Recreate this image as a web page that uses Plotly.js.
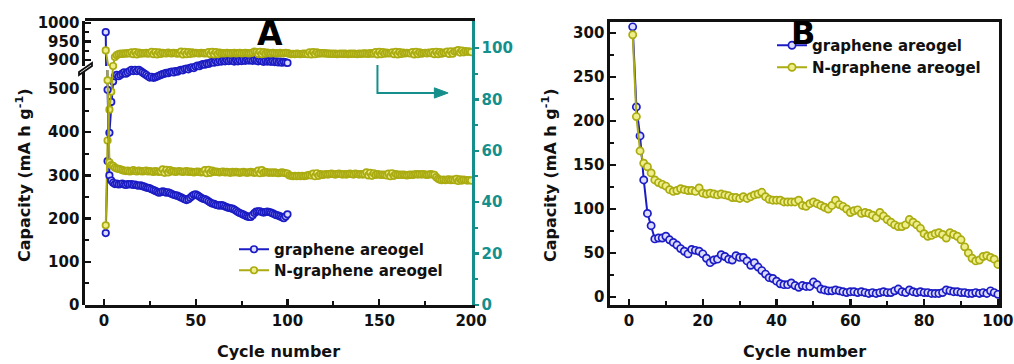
<!DOCTYPE html>
<html>
<head>
<meta charset="utf-8">
<script src="https://cdn.plot.ly/plotly-3.0.1.min.js"></script>
<style>html,body{margin:0;padding:0;background:#fff;}#chart{width:1014px;height:364px;}</style>
</head>
<body>
<div id="chart"></div>
<script>
// ---------------- DATA ----------------
// Panel A: capacity (left axis, mA h g-1) and coulombic efficiency (right axis, %)
const blueCapA = [975,498,300,288,283,280,281,279,280,281,
  279,278,280,279,280,278,279,277,276,277,
  275,274,272,271,270,268,266,264,262,260,
  261,263,262,260,261,259,257,255,254,253,
  251,249,247,245,243,245,248,252,255,256,
  254,251,248,246,245,243,240,237,235,234,
  232,231,230,231,230,228,226,225,224,223,
  221,218,215,213,211,209,207,205,204,204,
  208,213,216,217,217,215,214,215,216,215,
  214,212,210,208,207,205,203,201,205,210];
const blueCE_A = [28,56,67,79,87,89,89.5,89,89.5,90,
  90.5,90,90.5,91,91.5,91,91.5,91,91.5,91,
  90.5,90,89.5,89,88.5,88.8,88.4,88.6,88.9,89.2,
  89.5,89.8,90,90.3,90.2,90.6,90.8,90.5,91,90.8,
  91.2,91.5,91.3,91.8,92,91.7,92.3,92.5,92.2,92.8,
  93.1,92.9,93.4,93.7,93.5,94,93.8,94.3,94.6,94.3,
  94.8,94.5,95,94.7,95.1,94.8,95.2,94.9,95.3,95,
  94.7,95.1,94.8,95.2,94.9,95.3,95,95.4,95.1,95.3,
  95,95.4,95.1,94.8,95.2,94.9,94.6,95,94.7,94.9,
  94.6,94.9,94.5,94.8,94.4,94.7,94.3,94.6,94.4,94.2];
const yellowCapA = [926,520,330,324,322,318,316,315,314,312,
  311,310,311,309,310,312,310,309,311,310,
  309,310,311,309,310,309,308,310,309,308,
  309,314,306,313,307,312,309,310,308,309,
  310,309,308,309,310,308,309,308,307,308,
  309,308,307,308,312,305,313,306,311,308,
  309,308,307,308,309,307,308,307,306,308,
  307,308,307,306,307,308,307,306,307,308,
  307,306,307,311,305,312,306,308,307,306,
  307,306,307,306,305,306,307,306,305,304,
  300,299,298,299,298,299,298,299,298,299,
  300,301,300,304,298,305,299,303,301,302,
  303,302,303,304,303,302,303,304,303,302,
  303,302,303,304,303,302,304,303,302,303,
  302,303,307,300,306,299,305,301,303,302,
  301,302,301,300,304,298,305,299,303,301,
  302,301,302,301,300,301,302,301,302,303,
  302,303,302,303,302,301,302,303,302,301,
  296,292,290,289,290,289,290,291,289,290,
  289,292,287,291,288,290,289,288,289,288];
const yellowCE_A = [31,64,76,83,93,96.5,97.2,97.6,97.8,97.7,
  97.9,97.8,98.0,97.9,98.3,97.6,98.4,97.5,98.2,97.8,
  98.0,97.9,98.1,97.8,98.0,98.5,97.6,98.4,97.5,98.3,
  97.7,98.1,98.0,97.9,98.2,98.0,97.9,98.1,98.0,97.8,
  98.0,98.6,97.5,98.5,97.6,98.4,97.7,98.3,97.9,98.1,
  98.0,97.9,98.1,98.0,97.9,98.0,98.4,97.6,98.5,97.5,
  98.4,97.6,98.2,97.9,98.0,97.9,98.1,98.0,97.9,98.0,
  98.1,97.9,98.0,98.1,97.9,98.0,98.1,98.0,97.9,98.0,
  98.2,98.6,98.4,97.7,98.5,97.6,98.4,97.8,98.2,98.0,
  97.9,98.1,98.0,97.9,98.0,98.1,97.9,98.0,98.1,98.0,
  97.8,97.6,97.7,97.6,97.8,97.7,97.6,97.7,97.8,97.7,
  97.6,98.3,97.5,98.4,97.6,98.3,97.8,98.0,97.9,98.0,
  97.8,97.9,97.7,97.8,97.7,97.8,97.6,97.7,97.8,97.7,
  97.8,97.7,97.6,97.8,97.7,97.8,97.7,97.6,97.8,97.7,
  97.8,97.9,97.8,97.7,98.0,97.8,97.9,98.4,97.5,98.5,
  97.6,98.4,97.8,98.2,97.9,98.0,98.3,97.6,98.5,97.5,
  98.4,97.7,98.2,97.9,98.1,98.0,97.9,98.4,97.5,98.5,
  97.6,98.3,97.8,98.0,98.1,97.9,98.2,98.0,98.4,97.6,
  98.5,97.6,98.4,97.8,98.2,98.1,98.6,97.7,98.7,97.8,
  98.6,98.9,99.2,98.2,99.0,98.3,98.8,98.5,98.7,98.4];
// Panel B: capacity (mA h g-1)
const blueCapB = [307,216,183,133,95,81,66,67,67,69,
  65,62,59,55,52,49,54,53,52,49,
  44,39,42,43,48,46,43,42,47,45,
  45,41,36,39,34,30,26,22,21,18,
  15,14,14,16,13,11,13,12,12,17,
  14,9,8,7,7,8,7,6,5,6,
  6,5,6,5,4,5,4,5,6,5,
  5,7,9,6,5,8,6,5,6,5,
  5,4,4,4,5,8,7,6,6,5,
  5,4,4,5,4,5,4,7,5,3];
const yellowCapB = [298,205,166,152,148,141,133,130,128,126,
  122,120,121,123,122,121,121,120,124,118,
  117,118,117,116,117,116,115,113,113,112,
  114,112,114,116,117,119,114,111,110,110,
  110,108,108,108,108,110,104,103,106,108,
  106,104,102,100,104,110,105,103,100,96,
  98,99,95,96,95,93,90,96,92,88,
  85,82,80,80,82,88,85,82,78,72,
  69,70,72,73,71,67,73,71,69,65,
  57,50,44,41,42,46,47,45,43,37];
const seriesNames = ['graphene areogel', 'N-graphene areogel'];
const xTitle = 'Cycle number';
const yTitle = 'Capacity (mA h g<sup>-1</sup>)';

const cycA200 = yellowCapA.map((_, i) => i + 1);
const cycA100 = blueCapA.map((_, i) => i + 1);
const cycB = blueCapB.map((_, i) => i + 1);

// ---------------- STYLE ----------------
const BLUE = '#1c1cc4', BLUE_FILL = '#dcdcff';
const YEL = '#abab12', YEL_FILL = '#eeee8a';
const TEAL = '#148f8c';
const FONT = 'DejaVu Sans, Liberation Sans, Arial, sans-serif';
const W = 1014, H = 364;
const px = v => v / W, py = v => 1 - v / H;

function tr(x, y, xa, ya, col, fill, name, show, leg, msize) {
  return {
    x: x, y: y, xaxis: xa, yaxis: ya, type: 'scatter', mode: 'lines+markers',
    name: name, showlegend: show, legend: leg,
    line: {color: col, width: 2},
    marker: {symbol: 'circle', size: msize, color: fill, line: {color: col, width: 1.7}},
    cliponaxis: true, hoverinfo: 'skip'
  };
}

const data = [
  tr(cycA100, blueCapA, 'x', 'y3', BLUE, BLUE_FILL, seriesNames[0], true, 'legend', 6.5),
  tr(cycA100, blueCapA, 'x', 'y4', BLUE, BLUE_FILL, seriesNames[0], false, 'legend', 6.5),
  tr(cycA200, yellowCapA, 'x', 'y3', YEL, YEL_FILL, seriesNames[1], true, 'legend3', 6.5),
  tr(cycA200, yellowCapA, 'x', 'y4', YEL, YEL_FILL, seriesNames[1], false, 'legend3', 6.5),
  tr(cycA100, blueCE_A, 'x', 'y', BLUE, BLUE_FILL, seriesNames[0], false, 'legend', 6.5),
  tr(cycA200, yellowCE_A, 'x', 'y', YEL, YEL_FILL, seriesNames[1], false, 'legend3', 6.5),
  tr(cycB, blueCapB, 'x2', 'y5', BLUE, BLUE_FILL, seriesNames[0], true, 'legend2', 7.2),
  tr(cycB, yellowCapB, 'x2', 'y5', YEL, YEL_FILL, seriesNames[1], true, 'legend4', 7.2)
];

const tickFont = {family: FONT, size: 15, color: '#111', weight: 700};
const titleFont = {family: FONT, size: 16, color: '#111', weight: 700};
const legFont = {family: FONT, size: 15, color: '#111', weight: 700};
const LW = 2.6;

const yA0 = py(305), yA1 = py(21);
const breakLo = py(70), breakHi = py(66);

function leg(xp, yp) {
  return {x: px(xp), y: py(yp), xanchor: 'left', yanchor: 'top',
    bgcolor: 'rgba(0,0,0,0)', borderwidth: 0, tracegroupgap: 0, itemwidth: 30, font: legFont};
}
function note(text, xp, yp, font, angle) {
  return {text: text, xref: 'paper', yref: 'paper', x: px(xp), y: py(yp),
    xanchor: 'center', yanchor: 'middle', textangle: angle || 0, showarrow: false, font: font};
}

const layout = {
  width: W, height: H,
  margin: {l: 0, r: 0, t: 0, b: 0},
  paper_bgcolor: '#ffffff', plot_bgcolor: 'rgba(0,0,0,0)',
  font: {family: FONT, color: '#111'},
  showlegend: true,
  xaxis: {
    domain: [px(85), px(472)], anchor: 'y', range: [-10.3, 200.5],
    tickvals: [0, 50, 100, 150, 200], ticks: 'inside', ticklen: 6, tickwidth: 2.4, tickcolor: '#111',
    minor: {tickvals: [25, 75, 125, 175], ticks: 'inside', ticklen: 4, tickwidth: 2, tickcolor: '#111'},
    showline: true, linecolor: '#111', linewidth: LW, mirror: true,
    showgrid: false, zeroline: false, tickfont: tickFont,
    title: {text: xTitle, font: titleFont, standoff: 18}
  },
  yaxis: {
    domain: [yA0, yA1], anchor: 'x', side: 'right', range: [0, 110.5],
    tickvals: [0, 20, 40, 60, 80, 100], ticks: 'outside', ticklen: 4, tickwidth: 2.4, tickcolor: TEAL,
    minor: {tickvals: [10, 30, 50, 70, 90], ticks: 'outside', ticklen: 3, tickwidth: 2, tickcolor: TEAL},
    showline: true, linecolor: TEAL, linewidth: LW,
    showgrid: false, zeroline: false,
    tickfont: {family: FONT, size: 15, color: TEAL, weight: 700}
  },
  yaxis3: {
    domain: [yA0, breakLo], anchor: 'x', side: 'left', range: [0, 544],
    tickvals: [0, 100, 200, 300, 400, 500], ticks: 'inside', ticklen: 6, tickwidth: 2.4, tickcolor: '#111',
    minor: {tickvals: [50, 150, 250, 350, 450], ticks: 'inside', ticklen: 4, tickwidth: 2, tickcolor: '#111'},
    showline: true, linecolor: '#111', linewidth: LW,
    showgrid: false, zeroline: false, tickfont: tickFont
  },
  yaxis4: {
    domain: [breakHi, yA1], anchor: 'x', side: 'left', range: [884, 1005],
    tickvals: [900, 950, 1000], ticks: 'inside', ticklen: 6, tickwidth: 2.4, tickcolor: '#111',
    minor: {tickvals: [925, 975], ticks: 'inside', ticklen: 4, tickwidth: 2, tickcolor: '#111'},
    showline: true, linecolor: '#111', linewidth: LW,
    showgrid: false, zeroline: false, tickfont: tickFont
  },
  xaxis2: {
    domain: [px(610), px(999)], anchor: 'y5', range: [-5.15, 100.3],
    tickvals: [0, 20, 40, 60, 80, 100], ticks: 'inside', ticklen: 6, tickwidth: 2.4, tickcolor: '#111',
    minor: {tickvals: [10, 30, 50, 70, 90], ticks: 'inside', ticklen: 4, tickwidth: 2, tickcolor: '#111'},
    showline: true, linecolor: '#111', linewidth: LW, mirror: true,
    showgrid: false, zeroline: false, tickfont: tickFont,
    title: {text: xTitle, font: titleFont, standoff: 18}
  },
  yaxis5: {
    domain: [py(305), py(22)], anchor: 'x2', range: [-9.1, 312.5],
    tickvals: [0, 50, 100, 150, 200, 250, 300], ticks: 'inside', ticklen: 6, tickwidth: 2.4, tickcolor: '#111',
    minor: {tickvals: [25, 75, 125, 175, 225, 275], ticks: 'inside', ticklen: 4, tickwidth: 2, tickcolor: '#111'},
    showline: true, linecolor: '#111', linewidth: LW, mirror: true,
    showgrid: false, zeroline: false, tickfont: tickFont
  },
  legend: leg(234, 233),
  legend3: leg(234, 254),
  legend2: leg(772, 29),
  legend4: leg(772, 51),
  annotations: [
    note('A', 270, 33, {family: FONT, size: 33, color: '#000', weight: 700}),
    note('B', 803, 33, {family: FONT, size: 32, color: '#000', weight: 700}),
    note(yTitle, 23, 175, titleFont, -90),
    note(yTitle, 549, 175, titleFont, -90)
  ],
  shapes: [
    {type: 'path', xref: 'x', yref: 'y', path: 'M 149 93.4 L 149 82.5 L 181 82.5',
     line: {color: TEAL, width: 2}},
    {type: 'path', xref: 'x', yref: 'y', path: 'M 180 84.5 L 187.5 82.5 L 180 80.5 Z',
     fillcolor: TEAL, line: {color: TEAL, width: 1}},
    {type: 'path', xref: 'paper', yref: 'paper',
     path: 'M ' + px(79) + ' ' + py(72) + ' L ' + px(92) + ' ' + py(63) + ' L ' + px(92) + ' ' + py(66) +
           ' L ' + px(79) + ' ' + py(75) + ' Z',
     fillcolor: '#ffffff', line: {color: '#111', width: 1.8}}
  ]
};

Plotly.newPlot('chart', data, layout, {staticPlot: true, displayModeBar: false});
</script>
</body>
</html>
